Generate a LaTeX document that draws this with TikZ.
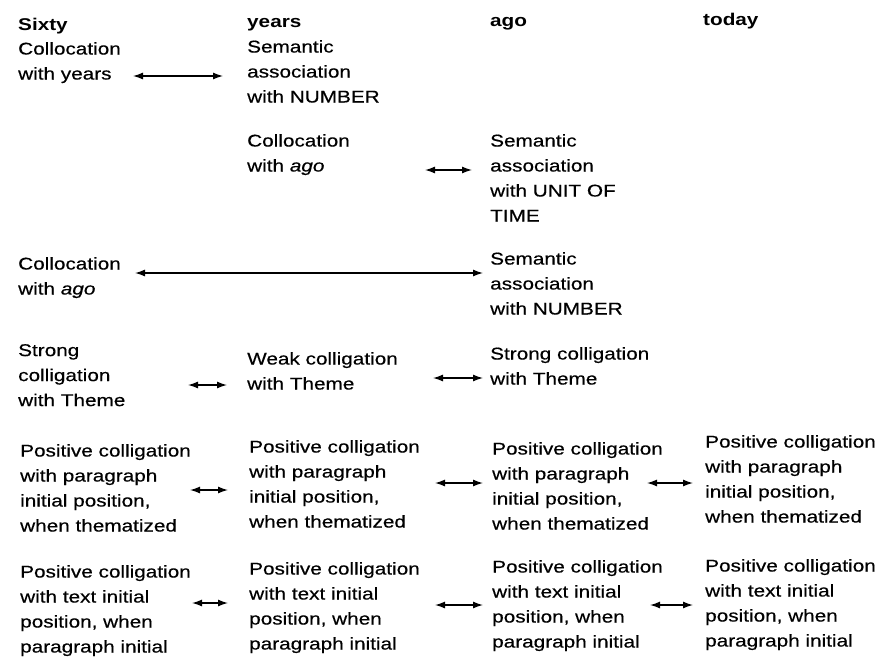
\documentclass[tikz,border=0pt]{standalone}
\usepackage{fontspec}
\setmainfont{Liberation Sans}[FakeStretch=1.22,UprightFeatures={FakeBold=0.5},ItalicFeatures={FakeBold=0.5}]
\usetikzlibrary{arrows.meta}

\begin{document}
\begin{tikzpicture}[x=1pt,y=-1pt,
    font=\fontsize{17}{25}\selectfont,
    hd/.style={anchor=base west,inner sep=0pt,font=\fontsize{17}{25}\selectfont\bfseries},
    blk/.style={anchor=north west,inner sep=0pt,align=left},
    dbl/.style={{Latex[length=10pt,width=7pt]}-{Latex[length=10pt,width=7pt]},line width=1.3pt}]
\useasboundingbox (0,0) rectangle (884,664);
% column heads
\node[hd] (sixty) at (18,30) {Sixty};
\node[hd] (years) at (247,27) {years};
\node[hd] (ago)   at (490,26) {ago};
\node[hd] (today) at (703,25) {today};
% blocks
\node[blk] (sx1) at (18,42)   {Collocation\\with years};
\node[blk] (yr1) at (247,40)  {Semantic\\association\\with NUMBER};
\node[blk] (yr2) at (247,134) {Collocation\\with \textit{ago}};
\node[blk] (ag2) at (490,134) {Semantic\\association\\with UNIT OF\\TIME};
\node[blk] (sx3) at (18,257)  {Collocation\\with \textit{ago}};
\node[blk] (ag3) at (490,252) {Semantic\\association\\with NUMBER};
\node[blk] (sx4) at (18,344)  {Strong\\colligation\\with Theme};
\node[blk] (yr4) at (247,352) {Weak colligation\\with Theme};
\node[blk] (ag4) at (490,347) {Strong colligation\\with Theme};
\node[blk] (sx5) at (20,444)  {Positive colligation\\with paragraph\\initial position,\\when thematized};
\node[blk] (yr5) at (249,440) {Positive colligation\\with paragraph\\initial position,\\when thematized};
\node[blk] (ag5) at (492,442) {Positive colligation\\with paragraph\\initial position,\\when thematized};
\node[blk] (td5) at (705,435) {Positive colligation\\with paragraph\\initial position,\\when thematized};
\node[blk] (sx6) at (20,565)  {Positive colligation\\with text initial\\position, when\\paragraph initial};
\node[blk] (yr6) at (249,562) {Positive colligation\\with text initial\\position, when\\paragraph initial};
\node[blk] (ag6) at (492,560) {Positive colligation\\with text initial\\position, when\\paragraph initial};
\node[blk] (td6) at (705,559) {Positive colligation\\with text initial\\position, when\\paragraph initial};
% links
\draw[dbl,shorten <=115pt,shorten >=24pt] (sx1.west |- 0,76)  -- (yr1.west |- 0,76);
\draw[dbl,shorten <=178pt,shorten >=18pt] (yr2.west |- 0,170) -- (ag2.west |- 0,170);
\draw[dbl,shorten <=117pt,shorten >=7pt]  (sx3.west |- 0,273) -- (ag3.west |- 0,273);
\draw[dbl,shorten <=170pt,shorten >=20pt] (sx4.west |- 0,385) -- (yr4.west |- 0,385);
\draw[dbl,shorten <=186pt,shorten >=7pt]  (yr4.west |- 0,378) -- (ag4.west |- 0,378);
\draw[dbl,shorten <=170pt,shorten >=21pt] (sx5.west |- 0,490) -- (yr5.west |- 0,490);
\draw[dbl,shorten <=186pt,shorten >=9pt]  (yr5.west |- 0,483) -- (ag5.west |- 0,483);
\draw[dbl,shorten <=155pt,shorten >=12pt] (ag5.west |- 0,483) -- (td5.west |- 0,483);
\draw[dbl,shorten <=172pt,shorten >=21pt] (sx6.west |- 0,603) -- (yr6.west |- 0,603);
\draw[dbl,shorten <=186pt,shorten >=9pt]  (yr6.west |- 0,605) -- (ag6.west |- 0,605);
\draw[dbl,shorten <=158pt,shorten >=12pt] (ag6.west |- 0,605) -- (td6.west |- 0,605);
\end{tikzpicture}
\end{document}
